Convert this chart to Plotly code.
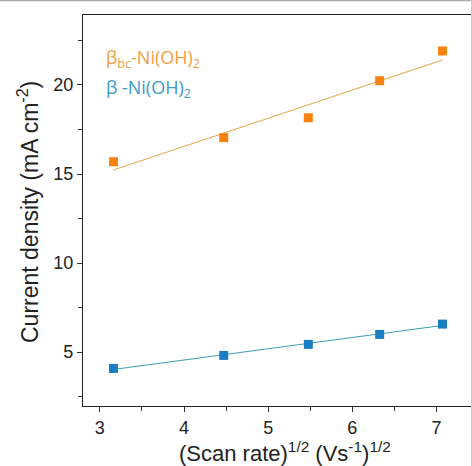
import numpy as np
import plotly.graph_objects as go

scan_rate_sqrt = [3.162, 4.472, 5.477, 6.325, 7.071]
beta_bc = [15.69, 17.04, 18.16, 20.24, 21.91]
beta = [4.08, 4.81, 5.43, 5.99, 6.57]

x_ticks = [3, 4, 5, 6, 7]
y_ticks = [5, 10, 15, 20]

ORANGE = "#F7820F"
ORANGE_LINE = "#E9A248"
BLUE = "#1A7EC2"
BLUE_LINE = "#3C9CB4"

def fit(x, y):
    a, b = np.polyfit(x, y, 1)
    xs = np.array([x[0], x[-1]])
    return xs, a * xs + b

fig = go.Figure()
for ys, mc, lc in [(beta_bc, ORANGE, ORANGE_LINE), (beta, BLUE, BLUE_LINE)]:
    fx, fy = fit(scan_rate_sqrt, ys)
    fig.add_trace(go.Scatter(x=fx, y=fy, mode="lines", line=dict(color=lc, width=1), showlegend=False))
    fig.add_trace(go.Scatter(x=scan_rate_sqrt, y=ys, mode="markers",
                             marker=dict(symbol="square", size=9, color=mc), showlegend=False))

W, H = 472, 466
L, T, B, R = 83, 15, 60, 1
ph = H - T - B
pw = W - L - R

axis_common = dict(showgrid=False, zeroline=False, showline=True, linecolor="#222", linewidth=1.3,
                   automargin=False,
                   ticks="outside", ticklen=5, tickwidth=1.3, tickcolor="#333",
                   tickfont=dict(family="Liberation Sans, Arial", size=18, color="#222"),
                   minor=dict(ticks="outside", ticklen=4, tickwidth=1.2, tickcolor="#333"))

fig.update_layout(
    width=W, height=H,
    margin=dict(l=L, r=R, t=T, b=B, autoexpand=False),
    paper_bgcolor="white", plot_bgcolor="white",
    xaxis=dict(range=[2.8, 7.41], tickvals=x_ticks, mirror=True, **axis_common),
    yaxis=dict(range=[1.97, 23.93], tickvals=y_ticks, **axis_common),
    font=dict(family="Liberation Sans, Arial"),
)
fig.update_xaxes(minor=dict(dtick=0.5, tick0=3))
fig.update_yaxes(minor=dict(dtick=2.5, tick0=0))

fig.add_annotation(x=-(L - 28) / pw, y=1 - (212 - T) / ph, xref="paper", yref="paper",
                   xanchor="center", yanchor="middle",
                   text="Current density (mA cm<sup>-2</sup>)", textangle=-90, showarrow=False,
                   font=dict(size=23, color="#222", family="Liberation Sans, Arial"))
fig.add_annotation(x=(285 - L) / pw, y=-(452 - T - ph) / ph, xref="paper", yref="paper",
                   xanchor="center", yanchor="middle",
                   text="(Scan rate)<sup>1/2</sup> (Vs<sup>-1</sup>)<sup>1/2</sup>", showarrow=False,
                   font=dict(size=22, color="#222", family="Liberation Sans, Arial"))
fig.add_annotation(x=(104 - L) / pw, y=1 - (58 - T) / ph, xref="paper", yref="paper",
                   xanchor="left", yanchor="middle",
                   text="β<sub>bc</sub>-Ni(OH)<sub>2</sub>", showarrow=False,
                   font=dict(size=18, color="#F0A040", family="Open Sans"))
fig.add_annotation(x=(104 - L) / pw, y=1 - (88 - T) / ph, xref="paper", yref="paper",
                   xanchor="left", yanchor="middle",
                   text="β -Ni(OH)<sub>2</sub>", showarrow=False,
                   font=dict(size=18, color="#3A9AC8", family="Open Sans"))

# light gray image border (top and right)
fig.add_shape(type="line", xref="paper", yref="paper", x0=-L / pw, x1=1 + R / pw,
              y0=1 + (T - 0.5) / ph, y1=1 + (T - 0.5) / ph, line=dict(color="#aaa", width=1.5))
fig.add_shape(type="line", xref="paper", yref="paper", x0=1 + (R - 0.5) / pw, x1=1 + (R - 0.5) / pw,
              y0=-B / ph, y1=1 + T / ph, line=dict(color="#ccc", width=1))

fig.write_html("out.html", config={"displayModeBar": False},
               post_script="document.body.style.margin='0';")
